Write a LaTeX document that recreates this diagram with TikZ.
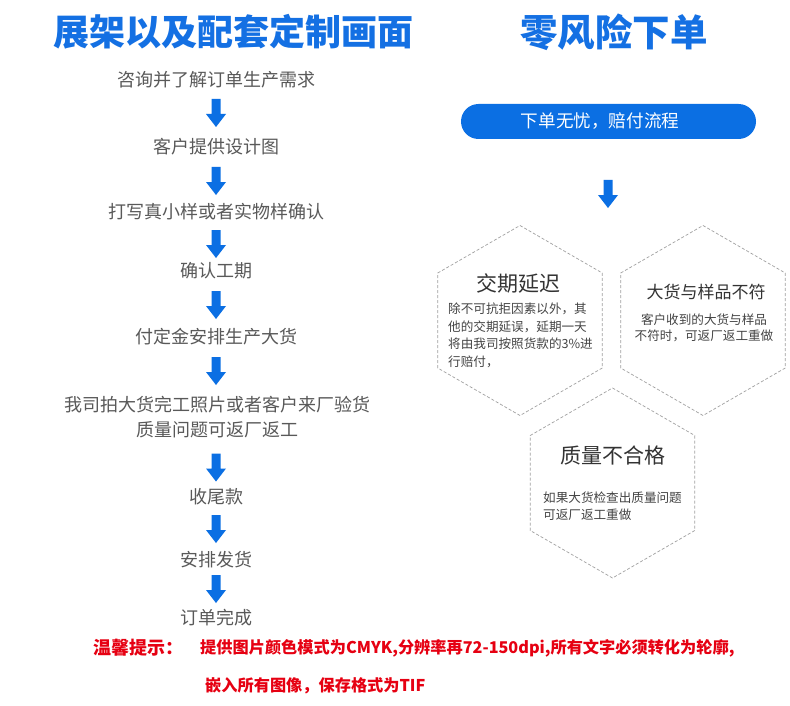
\documentclass[tikz,border=0pt]{standalone}
\usepackage{fontspec}
\setmainfont{Noto Sans CJK SC}
\usetikzlibrary{calc}
\definecolor{brandblue}{HTML}{0B6FE3}
\definecolor{titleblue}{HTML}{1470E3}
\definecolor{stepgray}{HTML}{595959}
\definecolor{hexgray}{HTML}{A0A0A0}
\definecolor{htitlegray}{HTML}{333333}
\definecolor{hbodygray}{HTML}{444444}
\definecolor{warnred}{HTML}{E60012}
\newcommand\hexat[1]{\draw[hexline] ($(#1)+(30:95)$) -- ($(#1)+(90:95)$) -- ($(#1)+(150:95)$) -- ($(#1)+(210:95)$) -- ($(#1)+(270:95)$) -- ($(#1)+(330:95)$) -- cycle;}
\begin{document}
\begin{tikzpicture}[x=1pt,y=-1pt,
  steptext/.style={font=\fontsize{18}{25}\selectfont, text=stepgray, inner sep=0pt, align=center},
  bigtitle/.style={font=\bfseries\fontsize{36}{40}\selectfont, text=titleblue, inner sep=0pt},
  hexline/.style={draw=hexgray, dash pattern=on 3pt off 2pt, line width=0.7pt},
  hexhead/.style={text=htitlegray, inner sep=0pt},
  hexbody/.style={font=\fontsize{12.6}{17.6}\selectfont, text=hbodygray, inner sep=0pt},
  warn/.style={text=warnred, font=\bfseries\fontsize{16.2}{20}\selectfont, inner sep=0pt},
  blockdown/.pic={\fill[brandblue] (-4.5,-14) -- (4.5,-14) -- (4.5,1) -- (10,1) -- (0,14) -- (-10,1) -- (-4.5,1) -- cycle;}
]
\fill[white] (0,0) rectangle (790,706);
\useasboundingbox (0,0) rectangle (790,706);

% titles
\node[bigtitle] (ltitle) at (233,32) {展架以及配套定制画面};
\node[bigtitle, font=\bfseries\fontsize{37.5}{40}\selectfont] (rtitle) at (614,32) {零风险下单};

% left flow
\node[steptext] (s1) at (216,80) {咨询并了解订单生产需求};
\node[steptext] (s2) at (216,147) {客户提供设计图};
\node[steptext] (s3) at (216,212) {打写真小样或者实物样确认};
\node[steptext] (s4) at (216,271) {确认工期};
\node[steptext] (s5) at (216,337) {付定金安排生产大货};
\node[steptext] (s6) at (217,417.5) {我司拍大货完工照片或者客户来厂验货\\质量问题可返厂返工};
\node[steptext] (s7) at (216,497) {收尾款};
\node[steptext] (s8) at (216,560) {安排发货};
\node[steptext] (s9) at (216,618) {订单完成};

\pic (a1) at (216,113) {blockdown};
\pic (a2) at (216,181) {blockdown};
\pic (a3) at (216,244) {blockdown};
\pic (a4) at (216,305) {blockdown};
\pic (a5) at (216,371) {blockdown};
\pic (a6) at (216,467.5) {blockdown};
\pic (a7) at (216,529) {blockdown};
\pic (a8) at (216,589) {blockdown};

% right side
\node[fill=brandblue, rounded corners=17.5pt, minimum width=295pt, minimum height=35pt, inner sep=0pt] (pill) at (608.5,121.5) {};
\node[text=white, font=\fontsize{17.6}{20}\selectfont, inner sep=0pt] (pilltext) at (600,121.5) {下单无忧，赔付流程};
\pic (ar) at (608,194) {blockdown};

\coordinate (h1) at (520,320.5);
\coordinate (h2) at (703,320.5);
\coordinate (h3) at (612.5,483);
\hexat{h1}
\hexat{h2}
\hexat{h3}

\node[hexhead, font=\fontsize{21}{24}\selectfont] (h1t) at (518,283) {交期延迟};
\node[hexbody, anchor=west, align=left] (h1b) at (448,335.5) {除不可抗拒因素以外，其\\他的交期延误，延期一天\\将由我司按照货款的3\%进\\行赔付，};

\node[hexhead, font=\fontsize{17}{20}\selectfont] (h2t) at (706,292) {大货与样品不符};
\node[hexbody, align=center, font=\fontsize{12.6}{16}\selectfont] (h2b) at (704,328) {客户收到的大货与样品\\不符时，可返厂返工重做};

\node[hexhead, font=\fontsize{21}{24}\selectfont] (h3t) at (612.5,455) {质量不合格};
\node[hexbody, anchor=west, align=left] (h3b) at (543,506) {如果大货检查出质量问题\\可返厂返工重做};

% warning
\node[warn, font=\bfseries\fontsize{18}{20}\selectfont, anchor=west] (w0) at (93,648) {温馨提示：};
\node[warn, anchor=west] (w1) at (200,648) {提供图片颜色模式为CMYK,分辨率再72-150dpi,所有文字必须转化为轮廓,};
\node[warn, anchor=west] (w2) at (205,686) {嵌入所有图像，保存格式为TIF};
\end{tikzpicture}
\end{document}
